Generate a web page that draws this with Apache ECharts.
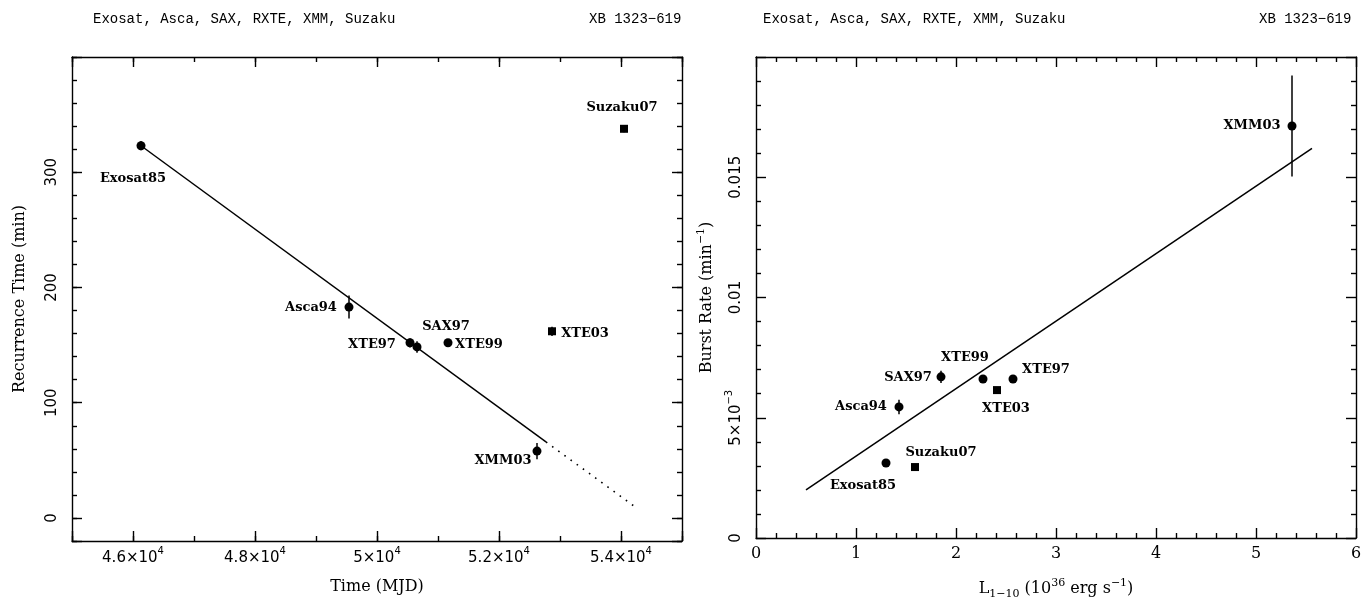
<!DOCTYPE html>
<html><head><meta charset="utf-8">
<script src="https://cdn.jsdelivr.net/npm/echarts@6/dist/echarts.min.js"></script>
<style>html,body{margin:0;padding:0;background:#fff}#c{width:1372px;height:597px}</style>
</head><body><div id="c"></div>
<script>
// ---------------- data ----------------
const names    = ['Exosat85','Asca94','XTE97','SAX97','XTE99','XTE03','XMM03','Suzaku07'];
const mjd      = [46131, 49541, 50541, 50656, 51164, 52869, 52623, 54049];
const recTime  = [323, 183, 152, 148.4, 152, 162, 58, 337.7];
const recErr   = [4, 10, 4, 5, 3, 4, 7, 3];
const lum      = [1.30, 1.43, 2.57, 1.85, 2.27, 2.41, 5.36, 1.59];
const rate     = [0.00312, 0.00545, 0.00661, 0.0067, 0.00661, 0.00615, 0.01713, 0.00295];
const rateErr  = [0.0001, 0.0003, 0.0001, 0.00025, 0.0001, 0.0001, 0.0021, 0.0001];
const isSquare = [false, false, false, false, false, true, false, true];

const fitTimeX    = [46131, 52770];
const fitTimeY    = [323, 66];
const fitTimeExtX = [52770, 54279];
const fitTimeExtY = [66, 7.8];
const fitRateX    = [0.5, 5.56];
const fitRateY    = [0.0020, 0.0162];

const timeTicks = [46000, 48000, 50000, 52000, 54000];
const recTicks  = [0, 100, 200, 300];
const rateTickLabels = {0: '0', 0.005: 'sci', 0.01: '0.01', 0.015: '0.015'};

const titleLeft  = 'Exosat, Asca, SAX, RXTE, XMM, Suzaku';
const titleRight = 'XB 1323\u2212619';

// ---------------- label placement (style only) ----------------
const labelOffLeft = {
  Exosat85: [-8, 33], Asca94: [-38, 1], XTE97: [-38, 2], SAX97: [29, -20],
  XTE99: [31, 2], XTE03: [33, 2], XMM03: [-34, 10], Suzaku07: [-2, -21]
};
const labelOffRight = {
  XMM03: [-40, 0], XTE99: [-18, -21], XTE97: [33, -9], XTE03: [9, 19],
  SAX97: [-33, 1], Asca94: [-38, 0], Suzaku07: [26, -14], Exosat85: [-23, 23]
};

// ---------------- styles ----------------
const BLACK = '#000';
const serif = 'DejaVu Serif';
const sans = 'DejaVu Sans';
const supRich = {
  b: {fontFamily: sans, fontSize: 15, color: BLACK, lineHeight: 17},
  s: {fontFamily: sans, fontSize: 10, color: BLACK, lineHeight: 10, padding: [0, 0, 14, 0]}
};
const lineW = 1.4;
const tickLine = {color: BLACK, width: lineW};

function axis(extra, len, withLine) {
  return Object.assign({
    type: 'value',
    splitLine: {show: false},
    axisLine: {show: !!withLine, onZero: false, lineStyle: tickLine},
    axisTick: {show: len > 0, inside: true, length: len, lineStyle: tickLine},
    axisLabel: {show: false},
    minorTick: {show: false},
    minorSplitLine: {show: false}
  }, extra);
}
// thin strip whose split lines act as the bottom tick marks of the left panel
function stripAxis(extra) {
  return Object.assign({
    type: 'value',
    axisLine: {show: false, onZero: false},
    axisTick: {show: false},
    axisLabel: {show: false},
    splitLine: {show: true, lineStyle: tickLine},
    minorTick: {show: false},
    minorSplitLine: {show: false}
  }, extra);
}

// grid 0: left panel data/labels; grid 2: same box, minor ticks;
// grids 3, 4: thin strips at the bottom edge of the left panel (major / minor ticks)
const L   = {gridIndex: 0, min: 45000, max: 55000, splitNumber: 5};
const LY  = {gridIndex: 0, min: -20, max: 400, splitNumber: 5};
const LM  = {gridIndex: 2, min: 45000, max: 55000, interval: 1000};
const LYM = {gridIndex: 2, min: -20, max: 400, interval: 20};
const R   = {gridIndex: 1, min: 0, max: 6, interval: 1};
const RY  = {gridIndex: 1, min: 0, max: 0.02, interval: 0.005};
const minorStyle = {show: true, splitNumber: 5, length: 5, lineStyle: tickLine};

// ---------------- axes ----------------
const xAxes = [
  // 0: left panel bottom (line, labels and name)
  axis(Object.assign({}, L, {position: 'bottom',
    axisLabel: {show: true, customValues: timeTicks, margin: 9,
      formatter: v => '{b|' + (v / 1e4) + '\u00d710}{s|4}', rich: supRich},
    name: 'Time (MJD)', nameLocation: 'middle', nameGap: 38,
    nameTextStyle: {fontFamily: serif, fontSize: 16, color: BLACK}}), 0, true),
  // 1: left panel top
  axis(Object.assign({}, L, {position: 'top'}), 10, true),
  // 2: right panel bottom
  axis(Object.assign({}, R, {position: 'bottom',
    minorTick: minorStyle,
    axisLabel: {show: true, margin: 8, showMinLabel: true, showMaxLabel: true,
      fontFamily: serif, fontSize: 16, color: BLACK},
    name: '{n|L}{sub|1\u221210}{n| (10}{sup|36}{n| erg s}{sup|\u22121}{n|)}',
    nameLocation: 'middle', nameGap: 40,
    nameTextStyle: {rich: {
      n: {fontFamily: serif, fontSize: 16, color: BLACK, lineHeight: 22},
      sub: {fontFamily: serif, fontSize: 11, color: BLACK, lineHeight: 11, padding: [11, 0, 0, 0]},
      sup: {fontFamily: serif, fontSize: 11, color: BLACK, lineHeight: 11, padding: [0, 0, 11, 0]}
    }}}), 10, true),
  // 3: right panel top
  axis(Object.assign({}, R, {position: 'top', minorTick: minorStyle}), 10, true),
  // 4: left panel top minor ticks
  axis(Object.assign({}, LM, {position: 'top'}), 5, false),
  // 5, 6: bottom tick strips of the left panel
  stripAxis({gridIndex: 3, min: 45000, max: 55000, splitNumber: 5, position: 'bottom'}),
  stripAxis({gridIndex: 4, min: 45000, max: 55000, interval: 1000, position: 'bottom'})
];

const yAxes = [
  // 0: left panel left
  axis(Object.assign({}, LY, {position: 'left',
    axisLabel: {show: true, customValues: recTicks, rotate: 90, margin: 12,
      fontFamily: sans, fontSize: 15, color: BLACK},
    name: 'Recurrence Time (min)', nameLocation: 'middle', nameRotate: 90, nameGap: 44,
    nameTextStyle: {fontFamily: serif, fontSize: 16, color: BLACK}}), 10, true),
  // 1: left panel right
  axis(Object.assign({}, LY, {position: 'right'}), 10, true),
  // 2: right panel left
  axis(Object.assign({}, RY, {position: 'left',
    minorTick: minorStyle,
    axisLabel: {show: true, rotate: 90, margin: 11, showMinLabel: true,
      formatter: v => {
        const key = Math.round(v * 1000) / 1000;
        const t = rateTickLabels[key];
        if (t === undefined) return '';
        if (t === 'sci') return '{b|5\u00d710}{s|\u22123}';
        return '{b|' + t + '}';
      }, rich: supRich},
    name: '{n|Burst Rate (min}{sup|\u22121}{n|)}', nameLocation: 'middle', nameRotate: 90, nameGap: 38,
    nameTextStyle: {rich: {
      n: {fontFamily: serif, fontSize: 16, color: BLACK, lineHeight: 22},
      sup: {fontFamily: serif, fontSize: 11, color: BLACK, lineHeight: 11, padding: [0, 0, 11, 0]}
    }}}), 10, true),
  // 3: right panel right
  axis(Object.assign({}, RY, {position: 'right', minorTick: minorStyle}), 10, true),
  // 4,5: left panel minor ticks
  axis(Object.assign({}, LYM, {position: 'left'}), 5, false),
  axis(Object.assign({}, LYM, {position: 'right'}), 5, false),
  // 6,7: hidden helper axes for the strips
  {type: 'value', gridIndex: 3, min: 1, max: 2, show: false, splitLine: {show: false}},
  {type: 'value', gridIndex: 4, min: 1, max: 2, show: false, splitLine: {show: false}}
];

// ---------------- series ----------------
const labelStyle = {fontFamily: serif, fontSize: 13, fontWeight: 'bold', color: BLACK};

function pointData(xs, ys, offs) {
  return names.map((n, i) => ({
    name: n,
    value: [xs[i], ys[i]],
    symbol: isSquare[i] ? 'rect' : 'circle',
    symbolSize: isSquare[i] ? 8 : 9,
    label: Object.assign({show: true, formatter: n, position: 'inside',
      align: 'center', verticalAlign: 'middle', offset: offs[n]}, labelStyle)
  }));
}
function errData(xs, ys, es) {
  return names.map((n, i) => [xs[i], ys[i] - es[i], ys[i] + es[i]]);
}
function errRender(params, api) {
  const a = api.coord([api.value(0), api.value(1)]);
  const b = api.coord([api.value(0), api.value(2)]);
  return {type: 'line', shape: {x1: a[0], y1: a[1], x2: b[0], y2: b[1]},
    style: {stroke: BLACK, lineWidth: 1.5}};
}
function pairs(xs, ys) { return xs.map((x, i) => [x, ys[i]]); }

const series = [
  {type: 'line', xAxisIndex: 0, yAxisIndex: 0, data: pairs(fitTimeX, fitTimeY),
   showSymbol: false, symbol: 'none', silent: true, lineStyle: {color: BLACK, width: 1.5}},
  {type: 'line', xAxisIndex: 0, yAxisIndex: 0, data: pairs(fitTimeExtX, fitTimeExtY),
   showSymbol: false, symbol: 'none', silent: true, lineStyle: {color: BLACK, width: 1.6, type: [1.6, 6]}},
  {type: 'custom', xAxisIndex: 0, yAxisIndex: 0, data: errData(mjd, recTime, recErr), renderItem: errRender, silent: true},
  {type: 'scatter', xAxisIndex: 0, yAxisIndex: 0, data: pointData(mjd, recTime, labelOffLeft),
   itemStyle: {color: BLACK, opacity: 1}, silent: true},

  {type: 'line', xAxisIndex: 2, yAxisIndex: 2, data: pairs(fitRateX, fitRateY),
   showSymbol: false, symbol: 'none', silent: true, lineStyle: {color: BLACK, width: 1.5}},
  {type: 'custom', xAxisIndex: 2, yAxisIndex: 2, data: errData(lum, rate, rateErr), renderItem: errRender, silent: true},
  {type: 'scatter', xAxisIndex: 2, yAxisIndex: 2, data: pointData(lum, rate, labelOffRight),
   itemStyle: {color: BLACK, opacity: 1}, silent: true}
];

const titleStyle = {fontFamily: 'Liberation Mono', fontSize: 14, fontWeight: 'normal', color: BLACK};

const chart = echarts.init(document.getElementById('c'), null, {renderer: 'canvas'});
chart.setOption({
  backgroundColor: '#fff',
  animation: false,
  title: [
    {text: titleLeft, left: 93, top: 12, textStyle: titleStyle, padding: 0},
    {text: titleRight, left: 589, top: 12, textStyle: titleStyle, padding: 0},
    {text: titleLeft, left: 763, top: 12, textStyle: titleStyle, padding: 0},
    {text: titleRight, left: 1259, top: 12, textStyle: titleStyle, padding: 0}
  ],
  grid: [
    {left: 72, top: 57, width: 610, height: 484, outerBoundsMode: 'none'},
    {left: 756, top: 57, width: 600, height: 481, outerBoundsMode: 'none'},
    {left: 72, top: 57, width: 610, height: 484, outerBoundsMode: 'none'},
    {left: 72, top: 531, width: 610, height: 10, outerBoundsMode: 'none'},
    {left: 72, top: 536, width: 610, height: 5, outerBoundsMode: 'none'}
  ],
  xAxis: xAxes,
  yAxis: yAxes,
  series: series
});
</script>
</body></html>
